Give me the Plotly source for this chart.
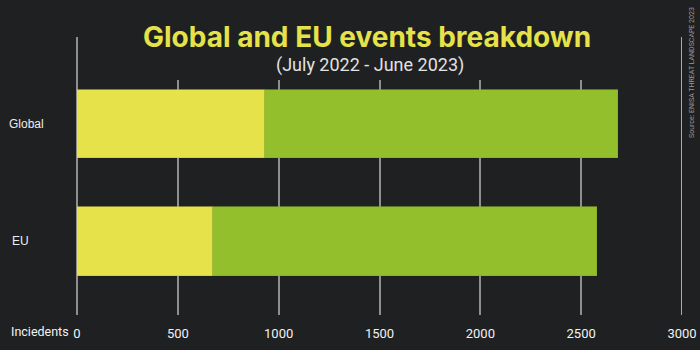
import plotly.graph_objects as go

categories = ["EU", "Global"]
yellow_values = [676, 932]
green_values = [1902, 1750]
x_ticks = [0, 500, 1000, 1500, 2000, 2500, 3000]
x_tick_labels = ["0", "500", "1000", "1500", "2000", "2500", "3000"]

BG = "#1f2021"
YELLOW = "#e6e24a"
GREEN = "#93bf2d"

fig = go.Figure()
fig.add_trace(go.Bar(y=categories, x=yellow_values, orientation="h",
                     marker=dict(color=YELLOW, line=dict(color="#c9c43c", width=0.6)),
                     width=0.58, hoverinfo="skip"))
fig.add_trace(go.Bar(y=categories, x=green_values, orientation="h",
                     marker=dict(color=GREEN, line=dict(color="#86ad28", width=0.6)),
                     width=0.58, hoverinfo="skip"))

L, R, T, B = 77, 18, 37, 35
PW, PH = 700 - L - R, 350 - T - B

def px_x(p):
    return (p - L) / PW

def px_y(p):
    return (350 - B - p) / PH

fig.update_layout(
    width=700, height=350,
    margin=dict(l=L, r=R, t=T, b=B, autoexpand=False),
    paper_bgcolor=BG, plot_bgcolor=BG,
    barmode="stack", showlegend=False, bargap=0,
    xaxis=dict(range=[0, 3000], tickvals=x_ticks, ticktext=x_tick_labels,
               automargin=False,
               showgrid=True, gridcolor="#8f8f8f", gridwidth=1.5,
               zeroline=True, zerolinecolor="#8f8f8f", zerolinewidth=1.5,
               showline=False, ticks="outside", ticklen=6, tickcolor=BG,
               tickfont=dict(family="Roboto", size=13, color="#f2f2f2")),
    yaxis=dict(categoryorder="array", categoryarray=categories,
               automargin=False,
               range=[-0.626, 1.74], showgrid=False, zeroline=False,
               showticklabels=False, showline=False),
    font=dict(family="Roboto"),
)

# cover gridlines behind the title area
fig.add_shape(type="rect", xref="paper", yref="paper",
              x0=px_x(92), x1=px_x(668), y0=px_y(80), y1=px_y(30),
              fillcolor=BG, line=dict(width=0), layer="above")
# brighter right-edge line
fig.add_shape(type="line", xref="x", yref="paper", x0=3000, x1=3000,
              y0=0, y1=1, line=dict(color="#d8d8d8", width=1.5), layer="above")

fig.add_annotation(text="<b>Global and EU events breakdown</b>", xref="paper", yref="paper",
                   x=px_x(367), y=px_y(37), xanchor="center", yanchor="middle",
                   showarrow=False, font=dict(family="Inter", size=28, color=YELLOW))
fig.add_annotation(text="(July 2022 - June 2023)", xref="paper", yref="paper",
                   x=px_x(370), y=px_y(65), xanchor="center", yanchor="middle",
                   showarrow=False, font=dict(family="Roboto", size=18, color="#e2e2e2"))
fig.add_annotation(text="Source: ENISA THREAT LANDSCAPE 2023", xref="paper", yref="paper",
                   x=px_x(692), y=px_y(73), xanchor="center", yanchor="middle", textangle=-90,
                   showarrow=False, font=dict(family="Roboto", size=7, color="#9a9a9a"))
fig.add_annotation(text="Inciedents", xref="paper", yref="paper",
                   x=px_x(9), y=px_y(331), xanchor="left", yanchor="middle",
                   showarrow=False, font=dict(family="Roboto", size=12.5, color="#f2f2f2"))
fig.add_annotation(text="Global", xref="paper", yref="y", x=px_x(7), y="Global",
                   xanchor="left", yanchor="middle", showarrow=False,
                   font=dict(family="Liberation Sans", size=12, color="#eeeeee"))
fig.add_annotation(text="EU", xref="paper", yref="y", x=px_x(10), y="EU",
                   xanchor="left", yanchor="middle", showarrow=False,
                   font=dict(family="Liberation Sans", size=12, color="#eeeeee"))

fig.write_html("out.html")
